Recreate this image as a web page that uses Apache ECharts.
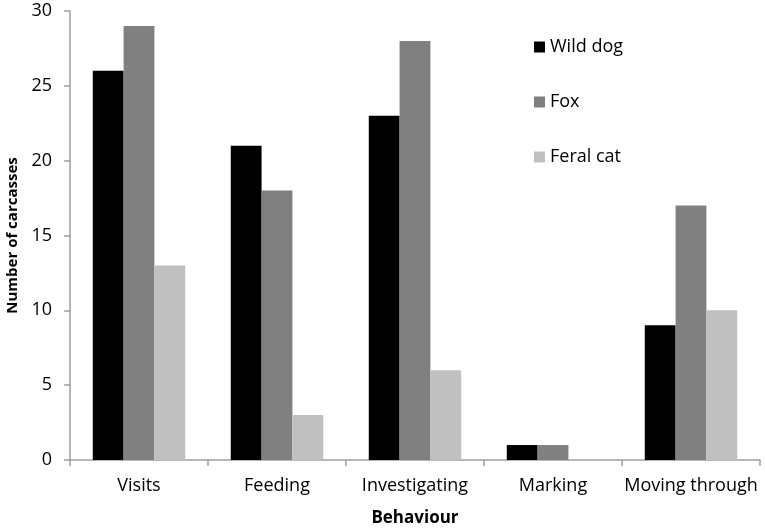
<!DOCTYPE html>
<html><head><meta charset="utf-8">
<script src="https://cdn.jsdelivr.net/npm/echarts@6/dist/echarts.min.js"></script>
<style>html,body{margin:0;padding:0;background:#fff}#c{width:765px;height:528px}</style>
</head><body><div id="c"></div>
<script>
const categories = ['Visits', 'Feeding', 'Investigating', 'Marking', 'Moving through'];
const wildDog = [26, 21, 23, 1, 9];
const fox = [29, 18, 28, 1, 17];
const feralCat = [13, 3, 6, 0, 10];
const seriesNames = ['Wild dog', 'Fox', 'Feral cat'];

const FONT = '"Open Sans", "Liberation Sans", sans-serif';
const chart = echarts.init(document.getElementById('c'));
chart.setOption({
  animation: false,
  textStyle: { fontFamily: FONT },
  grid: { left: 70, right: 5, top: 11, bottom: 68, containLabel: false, outerBoundsMode: 'none' },
  legend: {
    orient: 'vertical', left: 529, top: 33, itemWidth: 11, itemHeight: 11, itemGap: 37,
    icon: 'rect',
    textStyle: { fontFamily: FONT, fontSize: 18, color: '#000', padding: [0, 0, 0, 0] },
    data: seriesNames
  },
  xAxis: {
    type: 'category', data: categories,
    name: 'Behaviour', nameLocation: 'middle', nameGap: 50,
    nameTextStyle: { fontFamily: FONT, fontSize: 17, fontWeight: 'bold', color: '#000' },
    axisLine: { lineStyle: { color: '#a0a0a0', width: 1.5 } },
    axisTick: { show: true, length: 6, lineStyle: { color: '#a0a0a0', width: 1.5 } },
    axisLabel: { fontFamily: FONT, fontSize: 18, color: '#000', margin: 17, interval: 0 }
  },
  yAxis: {
    type: 'value', min: 0, max: 30, interval: 5,
    name: 'Number of carcasses', nameLocation: 'middle', nameGap: 50, nameRotate: 90,
    nameTextStyle: { fontFamily: FONT, fontSize: 15, fontWeight: 'bold', color: '#000' },
    axisLine: { show: true, lineStyle: { color: '#a0a0a0', width: 1.5 } },
    axisTick: { show: true, length: 6, lineStyle: { color: '#a0a0a0', width: 1.5 } },
    axisLabel: { fontFamily: FONT, fontSize: 18, color: '#000', margin: 18 },
    splitLine: { show: false }
  },
  series: [
    { name: seriesNames[0], type: 'bar', data: wildDog, itemStyle: { color: '#000000' }, barGap: '0%', barCategoryGap: '33%' },
    { name: seriesNames[1], type: 'bar', data: fox, itemStyle: { color: '#808080' }, barGap: '0%', barCategoryGap: '33%' },
    { name: seriesNames[2], type: 'bar', data: feralCat, itemStyle: { color: '#c0c0c0' }, barGap: '0%', barCategoryGap: '33%' }
  ]
});
</script></body></html>
